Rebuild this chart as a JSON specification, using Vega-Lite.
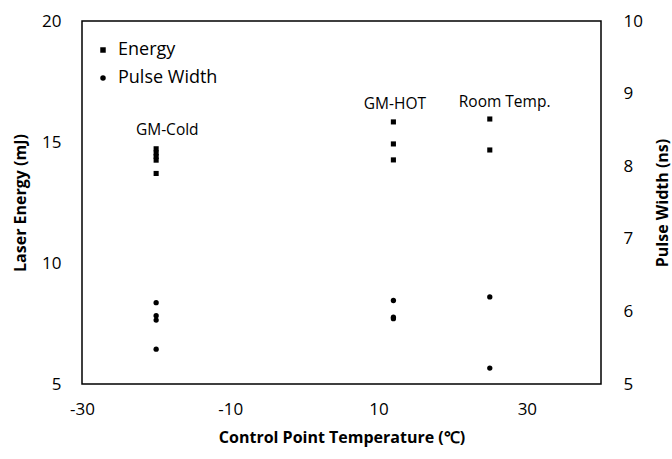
{
  "$schema": "https://vega.github.io/schema/vega-lite/v6.json",
  "width": 519,
  "height": 363,
  "autosize": {"type": "none"},
  "padding": {"left": 82, "top": 21, "right": 71, "bottom": 75},
  "background": "white",
  "datasets": {
    "pts": [
      {"series": "Energy", "temp": -20, "value": 14.72},
      {"series": "Energy", "temp": -20, "value": 14.55},
      {"series": "Energy", "temp": -20, "value": 14.4},
      {"series": "Energy", "temp": -20, "value": 14.25},
      {"series": "Energy", "temp": -20, "value": 13.7},
      {"series": "Energy", "temp": 12, "value": 15.83},
      {"series": "Energy", "temp": 12, "value": 14.92},
      {"series": "Energy", "temp": 12, "value": 14.26},
      {"series": "Energy", "temp": 25, "value": 15.95},
      {"series": "Energy", "temp": 25, "value": 14.67},
      {"series": "Pulse Width", "temp": -20, "value": 6.12},
      {"series": "Pulse Width", "temp": -20, "value": 5.94},
      {"series": "Pulse Width", "temp": -20, "value": 5.88},
      {"series": "Pulse Width", "temp": -20, "value": 5.48},
      {"series": "Pulse Width", "temp": 12, "value": 6.15},
      {"series": "Pulse Width", "temp": 12, "value": 5.92},
      {"series": "Pulse Width", "temp": 12, "value": 5.9},
      {"series": "Pulse Width", "temp": 25, "value": 6.2},
      {"series": "Pulse Width", "temp": 25, "value": 5.22}
    ],
    "labels": [
      {"label": "GM-Cold", "temp": -18.5, "value": 15.5},
      {"label": "GM-HOT", "temp": 12.2, "value": 16.57},
      {"label": "Room Temp.", "temp": 27, "value": 16.65}
    ]
  },
  "config": {
    "view": {"stroke": "black", "strokeWidth": 1.5},
    "font": "Open Sans",
    "axis": {
      "grid": false,
      "domain": false,
      "ticks": false,
      "labelFont": "Open Sans",
      "labelFontSize": 17,
      "labelColor": "black",
      "labelFlush": false,
      "labelExpr": "'' + datum.value",
      "titleFont": "Open Sans",
      "titleFontSize": 16,
      "titleFontWeight": "bold",
      "titleColor": "black"
    },
    "legend": {
      "labelFont": "Open Sans",
      "labelFontSize": 18,
      "labelColor": "black"
    }
  },
  "resolve": {"scale": {"y": "independent"}},
  "layer": [
    {
      "data": {"name": "pts"},
      "transform": [{"filter": "datum.series === 'Energy'"}],
      "mark": {"type": "point", "filled": true, "color": "black", "opacity": 1, "size": 26},
      "encoding": {
        "x": {
          "field": "temp", "type": "quantitative",
          "scale": {"domain": [-30, 40], "nice": false, "zero": false},
          "axis": {"values": [-30, -10, 10, 30], "labelPadding": 17, "title": "Control Point Temperature (℃)", "titlePadding": 12}
        },
        "y": {
          "field": "value", "type": "quantitative",
          "scale": {"domain": [5, 20], "nice": false, "zero": false},
          "axis": {"values": [5, 10, 15, 20], "labelPadding": 21, "title": "Laser Energy (mJ)", "titlePadding": 13}
        },
        "shape": {
          "field": "series", "type": "nominal",
          "scale": {"domain": ["Energy", "Pulse Width"], "range": ["square", "circle"]},
          "legend": {
            "title": null,
            "orient": "none",
            "legendX": 12,
            "legendY": 20,
            "symbolSize": 30,
            "symbolFillColor": "black",
            "symbolStrokeColor": "black",
            "symbolStrokeWidth": 0,
            "labelOffset": 6,
            "rowPadding": 10
          }
        }
      }
    },
    {
      "data": {"name": "pts"},
      "transform": [{"filter": "datum.series === 'Pulse Width'"}],
      "mark": {"type": "point", "filled": true, "color": "black", "opacity": 1, "size": 28},
      "encoding": {
        "x": {"field": "temp", "type": "quantitative"},
        "y": {
          "field": "value", "type": "quantitative",
          "scale": {"domain": [5, 10], "nice": false, "zero": false},
          "axis": {"orient": "right", "values": [5, 6, 7, 8, 9, 10], "labelPadding": 22, "title": "Pulse Width (ns)", "titleAngle": 270, "titleBaseline": "bottom", "titlePadding": 28}
        },
        "shape": {"field": "series", "type": "nominal"}
      }
    },
    {
      "data": {"name": "labels"},
      "mark": {"type": "text", "font": "Open Sans", "fontSize": 15.5, "color": "black", "align": "center", "baseline": "middle"},
      "encoding": {
        "x": {"field": "temp", "type": "quantitative"},
        "y": {
          "field": "value", "type": "quantitative",
          "scale": {"domain": [5, 20], "nice": false, "zero": false},
          "axis": null
        },
        "text": {"field": "label"}
      }
    }
  ]
}
